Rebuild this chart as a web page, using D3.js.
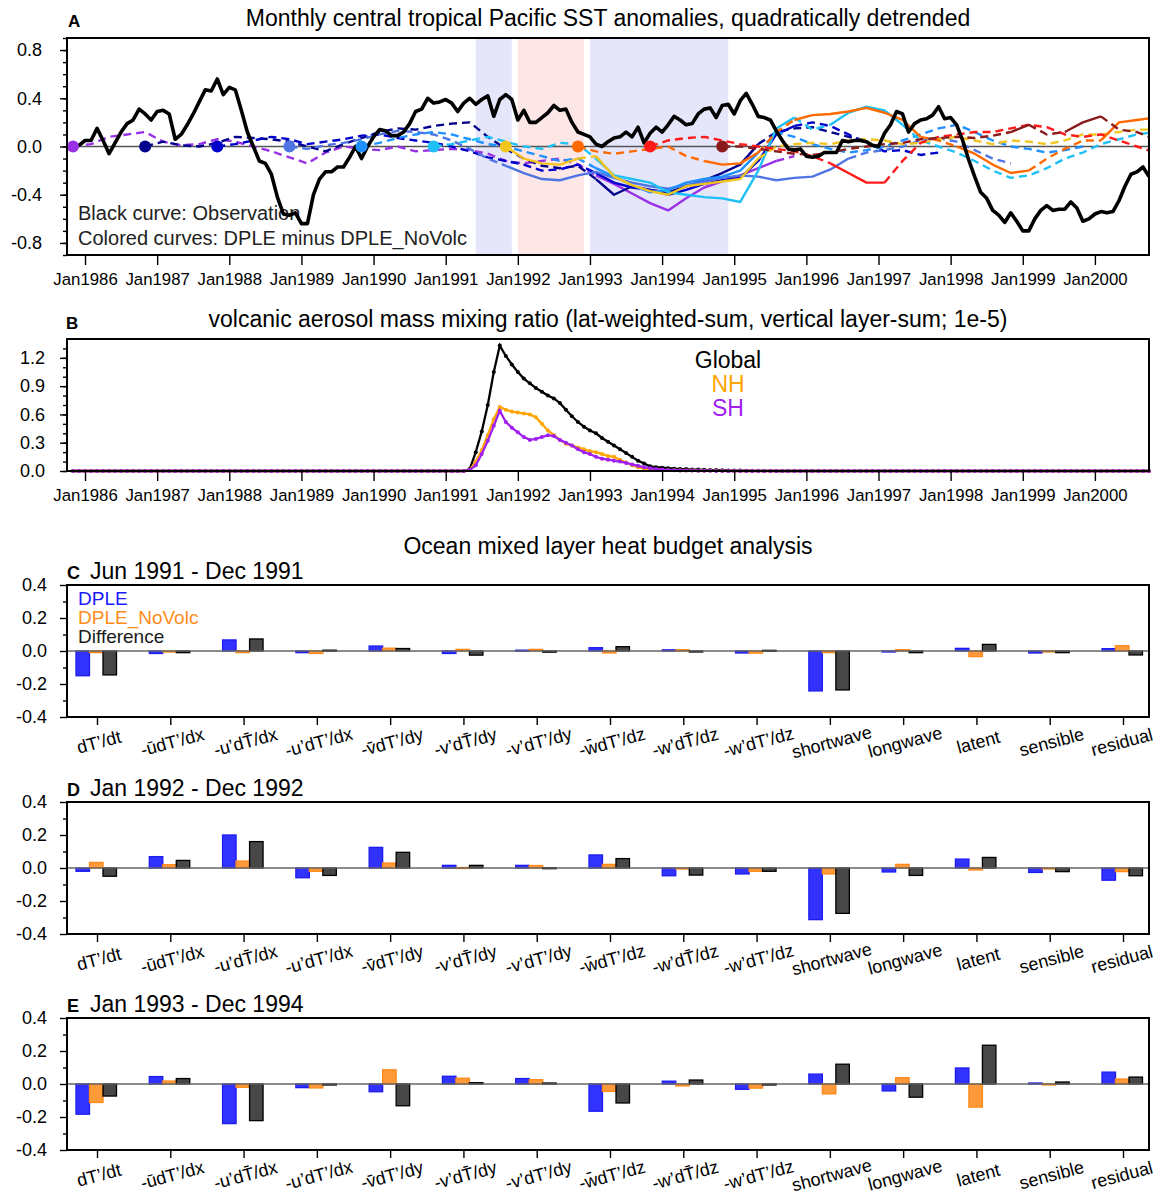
<!DOCTYPE html>
<html>
<head>
<meta charset="utf-8">
<script src="https://cdn.jsdelivr.net/npm/d3@7"></script>
<style>
  body { margin: 0; background: #fff; }
  svg { font-family: "Liberation Sans", Arial, Helvetica, sans-serif; }
</style>
</head>
<body>
<svg id="fig" width="1158" height="1200"></svg>
<script>
// ---------------------------------------------------------------------------
// Data. Months are counted from Jan 1986 (= 0).
// ---------------------------------------------------------------------------
const yearLabels = ["Jan1986","Jan1987","Jan1988","Jan1989","Jan1990","Jan1991","Jan1992",
  "Jan1993","Jan1994","Jan1995","Jan1996","Jan1997","Jan1998","Jan1999","Jan2000"];

// Observed central tropical Pacific SST anomaly (monthly, from Nov 1985)
const obsStart = -2;
const obsSST = [
  0.00, 0.01,
  0.05, 0.05, 0.15, 0.05, -0.06, 0.03, 0.12, 0.19, 0.22, 0.31, 0.27, 0.22,
  0.29, 0.30, 0.27, 0.06, 0.10, 0.18, 0.27, 0.37, 0.47, 0.46, 0.56, 0.43,
  0.49, 0.47, 0.30, 0.12, 0.00, -0.12, -0.14, -0.23, -0.42, -0.56, -0.57, -0.55,
  -0.64, -0.64, -0.40, -0.27, -0.21, -0.21, -0.17, -0.17, -0.09, 0.00, -0.10, 0.00,
  0.08, 0.14, 0.13, 0.09, 0.09, 0.12, 0.19, 0.29, 0.31, 0.40, 0.36, 0.37,
  0.39, 0.36, 0.29, 0.36, 0.40, 0.35, 0.39, 0.42, 0.25, 0.39, 0.43, 0.39,
  0.22, 0.30, 0.20, 0.20, 0.24, 0.28, 0.34, 0.30, 0.31, 0.20, 0.12, 0.10,
  0.08, 0.02, 0.00, 0.04, 0.07, 0.08, 0.12, 0.08, 0.16, 0.03, 0.11, 0.16,
  0.12, 0.18, 0.25, 0.22, 0.18, 0.19, 0.27, 0.31, 0.32, 0.24, 0.34, 0.35,
  0.27, 0.38, 0.44, 0.35, 0.25, 0.24, 0.22, 0.13, 0.05, -0.02, -0.03, -0.02,
  -0.08, -0.09, -0.08, -0.05, -0.05, -0.05, 0.05, 0.04, 0.05, 0.05, 0.04, 0.01,
  0.00, 0.11, 0.18, 0.29, 0.27, 0.12, 0.19, 0.22, 0.23, 0.26, 0.33, 0.23,
  0.24, 0.18, 0.05, -0.11, -0.25, -0.38, -0.43, -0.53, -0.57, -0.63, -0.55, -0.62,
  -0.70, -0.70, -0.60, -0.53, -0.49, -0.53, -0.52, -0.52, -0.46, -0.51, -0.62, -0.60,
  -0.56, -0.54, -0.55, -0.54, -0.45, -0.33, -0.23, -0.21, -0.17, -0.25
];

// DPLE minus DPLE_NoVolc, one hindcast per November start, sampled every 3 months
const hindcastStep = 3;
const startMonths = [-2, 10, 22, 34, 46, 58, 70, 82, 94, 106];
const memberColors = ["#9932e6", "#00008b", "#0000cd", "#4f74e3", "#1e90ff",
                      "#1ec0f5", "#f2c41e", "#ff6a00", "#ff1a1a", "#8b1a1a"];
const diffNov1985 = [0, 0.02, 0.08, 0.10, 0.12, 0.04, 0.01, 0.02, 0.06, 0.04, 0.00, -0.04, -0.09, -0.14,
  -0.05, 0.00, -0.02, -0.03, 0.00, -0.04, -0.03, -0.02, -0.03, -0.06, -0.12, -0.14, -0.12, -0.10,
  -0.15, -0.24, -0.31, -0.39, -0.47, -0.53, -0.43, -0.34, -0.29, -0.24, -0.18, -0.12, -0.08];
const diffNov1986 = [0, 0.04, 0.01, 0.00, 0.03, 0.08, 0.07, 0.06, 0.04, 0.00, -0.04, 0.02, 0.07, 0.12,
  0.15, 0.14, 0.17, 0.19, 0.20, 0.08, -0.02, -0.10, -0.16, -0.18, -0.16, -0.27, -0.40, -0.33,
  -0.36, -0.38, -0.33, -0.28, -0.22, -0.15, 0.02, 0.12, 0.15, 0.16, 0.12, 0.08, 0.05];
const diffNov1987 = [0, 0.02, 0.05, 0.08, 0.06, 0.02, 0.04, 0.06, 0.09, 0.10, 0.07, 0.05, 0.03, 0.00,
  -0.04, -0.09, -0.12, -0.15, -0.20, -0.19, -0.15, -0.22, -0.30, -0.34, -0.36, -0.40, -0.36, -0.31,
  -0.28, -0.26, -0.12, 0.10, 0.17, 0.20, 0.17, 0.10, 0.03, -0.04, -0.03, -0.07, -0.05];
const diffNov1988 = [0, -0.02, 0.01, 0.03, 0.06, 0.10, 0.13, 0.12, 0.10, 0.05, -0.02, -0.10, -0.16, -0.22,
  -0.27, -0.28, -0.24, -0.21, -0.26, -0.30, -0.33, -0.35, -0.32, -0.29, -0.26, -0.24, -0.25, -0.28,
  -0.26, -0.25, -0.19, -0.10, -0.05, -0.03, 0.00, 0.05, 0.07, 0.04, -0.03, -0.10, -0.14];
const diffNov1989 = [0, 0.03, 0.07, 0.10, 0.12, 0.10, 0.06, 0.02, 0.00, -0.04, -0.08, -0.12, -0.10, -0.18,
  -0.25, -0.32, -0.38, -0.36, -0.30, -0.27, -0.25, -0.20, -0.05, 0.12, 0.08, 0.02, -0.02, -0.05,
  -0.03, 0.00, 0.05, 0.10, 0.15, 0.18, 0.12, 0.05, 0.00, -0.02, -0.05, -0.03, 0.00];
const diffNov1990 = [0, 0.02, 0.05, 0.08, 0.04, 0.00, -0.02, 0.03, 0.02, -0.10, -0.24, -0.27, -0.30, -0.38,
  -0.40, -0.42, -0.43, -0.46, -0.20, 0.15, 0.24, 0.14, 0.18, 0.28, 0.33, 0.30, 0.18, 0.05,
  0.00, -0.05, -0.12, -0.20, -0.26, -0.24, -0.18, -0.10, -0.05, 0.02, 0.06, 0.10, 0.12];
const diffNov1991 = [0, -0.10, -0.14, -0.15, -0.10, -0.08, -0.25, -0.32, -0.37, -0.40, -0.33, -0.31, -0.29,
  -0.27, -0.10, 0.00, 0.02, 0.03, 0.02, 0.05, 0.06, 0.05, 0.02, 0.03, 0.06, 0.08, 0.05, 0.02,
  0.05, 0.04, 0.02, 0.05, 0.10, 0.10, 0.12, 0.14, 0.14];
const diffNov1992 = [0, -0.04, -0.06, -0.04, -0.02, 0.00, -0.08, -0.12, -0.15, -0.14, -0.05, 0.12, 0.22,
  0.26, 0.27, 0.29, 0.32, 0.28, 0.22, 0.08, 0.05, 0.00, -0.06, -0.15, -0.22, -0.20, -0.10, -0.02,
  0.05, 0.05, 0.20, 0.22, 0.24];
const diffNov1993 = [0, 0.05, 0.07, 0.08, 0.05, 0.02, 0.00, -0.02, -0.04, -0.08, -0.14, -0.22, -0.30,
  -0.30, -0.12, 0.03, 0.08, 0.10, 0.12, 0.12, 0.15, 0.18, 0.16, 0.10, 0.08, 0.10, 0.05, 0.00, -0.05];
const diffNov1994 = [0, 0.00, -0.02, -0.04, -0.06, -0.07, -0.05, -0.02, 0.00, 0.02, 0.03, 0.06, 0.07,
  0.08, 0.07, 0.09, 0.12, 0.18, 0.10, 0.12, 0.20, 0.25, 0.14, 0.12, 0.06];
// month ranges where each difference curve is drawn solid (elsewhere dashed)
const solidSpans = [
  [[85, 116]], [[84, 112]], [[84, 118]], [[70, 126]], [[84, 112]],
  [[84, 119], [125, 135]], [[70, 82], [86, 112]], [[104, 112], [118, 138], [146, 156], [168, 178]],
  [[124, 133]], [[153, 158], [162, 170]]
];
// shaded analysis periods: Jun-Dec 1991, Jan-Dec 1992, Jan 1993-Dec 1994
const periodSpans = [[65, 71], [72, 83], [84, 107]];
const periodFills = ["#e6e6fb", "#fde6e6", "#e6e6fb"];

// Volcanic aerosol mass mixing ratio (1e-5), monthly from Apr 1991; zero outside
const aerosolStart = 63;
const aerosolGlobal = [0, 0.02, 0.20, 0.42, 0.70, 1.05, 1.33, 1.22, 1.13, 1.05, 0.98, 0.93, 0.88, 0.84,
  0.80, 0.77, 0.72, 0.65, 0.58, 0.52, 0.47, 0.43, 0.40, 0.35, 0.31, 0.27, 0.23, 0.19, 0.15, 0.11,
  0.08, 0.05, 0.04, 0.035, 0.03, 0.025, 0.02, 0.02, 0.015, 0.015, 0.012, 0.01, 0.01, 0.008, 0.006,
  0.005, 0.004, 0.003, 0.002, 0.002, 0.001, 0.001, 0, 0];
const aerosolNH = [0, 0.01, 0.10, 0.22, 0.38, 0.55, 0.68, 0.65, 0.63, 0.62, 0.61, 0.60, 0.57, 0.50,
  0.43, 0.38, 0.33, 0.29, 0.27, 0.25, 0.23, 0.21, 0.20, 0.18, 0.16, 0.15, 0.12, 0.09, 0.06, 0.04,
  0.025, 0.018, 0.014, 0.011, 0.009, 0.007, 0.006, 0.005, 0.004, 0.003, 0.003, 0.002, 0.002, 0.001,
  0.001, 0, 0, 0, 0, 0, 0, 0, 0, 0];
const aerosolSH = [0, 0.01, 0.06, 0.18, 0.32, 0.48, 0.64, 0.52, 0.46, 0.41, 0.36, 0.33, 0.34, 0.36,
  0.38, 0.37, 0.33, 0.30, 0.27, 0.23, 0.20, 0.18, 0.15, 0.13, 0.12, 0.11, 0.10, 0.085, 0.07, 0.055,
  0.04, 0.03, 0.02, 0.015, 0.01, 0.008, 0.006, 0.005, 0.004, 0.003, 0.002, 0.002, 0.001, 0.001,
  0, 0, 0, 0, 0, 0, 0, 0, 0, 0];

// Mixed layer heat budget terms
const budgetTerms = ["dT\u2019/dt", "-\u016BdT\u2019/dx", "-u\u2019dT\u0304/dx", "-u\u2019dT\u2019/dx",
  "-v\u0304dT\u2019/dy", "-v\u2019dT\u0304/dy", "-v\u2019dT\u2019/dy", "-w\u0304dT\u2019/dz",
  "-w\u2019dT\u0304/dz", "-w\u2019dT\u2019/dz", "shortwave", "longwave", "latent", "sensible", "residual"];
const dple1991   = [-0.150, -0.015, 0.067, -0.010, 0.030, -0.015, 0.005, 0.020, 0.007, -0.012, -0.242, -0.003, 0.016, -0.012, 0.014];
const noVolc1991 = [-0.010, -0.005, -0.010, -0.015, 0.017, 0.010, 0.010, -0.012, 0.008, -0.013, -0.010, 0.008, -0.034, -0.005, 0.032];
const diff1991   = [-0.145, -0.010, 0.073, 0.005, 0.015, -0.025, -0.007, 0.026, -0.003, 0.004, -0.236, -0.010, 0.040, -0.010, -0.024];
const dple1992   = [-0.020, 0.069, 0.200, -0.059, 0.125, 0.016, 0.016, 0.079, -0.047, -0.036, -0.313, -0.024, 0.054, -0.027, -0.074];
const noVolc1992 = [0.034, 0.020, 0.042, -0.020, 0.030, 0.003, 0.015, 0.022, -0.005, -0.020, -0.036, 0.022, -0.012, -0.004, -0.022];
const diff1992   = [-0.050, 0.046, 0.160, -0.045, 0.095, 0.016, 0.002, 0.057, -0.043, -0.020, -0.275, -0.045, 0.064, -0.022, -0.047];
const dple9394   = [-0.183, 0.045, -0.240, -0.022, -0.047, 0.047, 0.033, -0.165, 0.017, -0.032, 0.060, -0.042, 0.097, 0.006, 0.072];
const noVolc9394 = [-0.112, 0.018, -0.020, -0.024, 0.086, 0.035, 0.026, -0.045, -0.012, -0.025, -0.060, 0.038, -0.140, -0.006, 0.030];
const diff9394   = [-0.073, 0.033, -0.222, -0.006, -0.132, 0.008, 0.006, -0.115, 0.024, -0.005, 0.120, -0.080, 0.235, 0.012, 0.042];

// ---------------------------------------------------------------------------
// Drawing
// ---------------------------------------------------------------------------
const svg = d3.select("#fig");
const L = 67, R = 1149;
const fmt1 = v => v.toFixed(1);

function frame(y0, y1) {
  svg.append("rect").attr("x", L).attr("y", y0).attr("width", R - L).attr("height", y1 - y0)
    .attr("fill", "none").attr("stroke", "#000").attr("stroke-width", 2);
}
function styleAxis(g, size) {
  g.select(".domain").remove();
  g.selectAll("line").attr("stroke", "#000").attr("stroke-width", 1.4);
  g.selectAll("text").attr("font-family", "Liberation Sans, Arial, sans-serif")
    .attr("font-size", size).attr("fill", "#000");
}
function leftAxis(y, majors, minors, pad) {
  const gMin = svg.append("g").attr("transform", `translate(${L},0)`)
    .call(d3.axisLeft(y).tickValues(minors).tickSize(4).tickFormat(""));
  styleAxis(gMin, 18);
  const gMaj = svg.append("g").attr("transform", `translate(${L},0)`)
    .call(d3.axisLeft(y).tickValues(majors).tickSize(7).tickPadding(pad).tickFormat(fmt1));
  styleAxis(gMaj, 18);
}
function monthAxis(x, yPos) {
  const g = svg.append("g").attr("transform", `translate(0,${yPos})`)
    .call(d3.axisBottom(x).tickValues(yearLabels.map((_, i) => i * 12)).tickSize(10)
      .tickPadding(8).tickFormat((d, i) => yearLabels[i]));
  styleAxis(g, 16.8);
}
function panelTag(x, y, t, size) {
  svg.append("text").attr("x", x).attr("y", y).attr("font-weight", "bold")
    .attr("font-size", size).text(t);
}

// ---------------- Panel A ----------------
const aTop = 38, aBot = 255;
const xA = d3.scaleLinear().domain([-3, 177]).range([L, R]);
const yA = d3.scaleLinear().domain([-0.9, 0.9]).range([aBot, aTop]);

svg.append("defs").append("clipPath").attr("id", "clipA").append("rect")
  .attr("x", L).attr("y", aTop).attr("width", R - L).attr("height", aBot - aTop);

periodSpans.forEach(([a, b], i) => {
  svg.append("rect").attr("x", xA(a)).attr("y", aTop).attr("width", xA(b) - xA(a))
    .attr("height", aBot - aTop).attr("fill", periodFills[i]);
});

svg.append("line").attr("x1", L).attr("x2", R).attr("y1", yA(0)).attr("y2", yA(0))
  .attr("stroke", "#555").attr("stroke-width", 1.3);

svg.append("text").attr("x", 78).attr("y", 220).attr("font-size", 20).attr("fill", "#222")
  .text("Black curve: Observation");
svg.append("text").attr("x", 78).attr("y", 245).attr("font-size", 20).attr("fill", "#222")
  .text("Colored curves: DPLE minus DPLE_NoVolc");

const hindcasts = [diffNov1985, diffNov1986, diffNov1987, diffNov1988, diffNov1989,
                   diffNov1990, diffNov1991, diffNov1992, diffNov1993, diffNov1994];
const lineA = d3.line().x(d => xA(d[0])).y(d => yA(d[1]));
const gCurves = svg.append("g").attr("clip-path", "url(#clipA)");

hindcasts.forEach((vals, k) => {
  const pts = vals.map((v, i) => [startMonths[k] + hindcastStep * i, v]);
  const solid = m => solidSpans[k].some(([a, b]) => m >= a && m <= b);
  const runs = [];
  let cur = [pts[0]], curSolid = solid((pts[0][0] + pts[1][0]) / 2);
  for (let i = 1; i < pts.length; i++) {
    const s = solid((pts[i - 1][0] + pts[i][0]) / 2);
    if (s !== curSolid) { runs.push({ solid: curSolid, pts: cur }); cur = [pts[i - 1]]; curSolid = s; }
    cur.push(pts[i]);
  }
  runs.push({ solid: curSolid, pts: cur });
  runs.forEach(r => {
    gCurves.append("path").attr("d", lineA(r.pts)).attr("fill", "none")
      .attr("stroke", memberColors[k]).attr("stroke-width", 2.4)
      .attr("stroke-linejoin", "round")
      .attr("stroke-dasharray", r.solid ? null : "8,5");
  });
});

startMonths.forEach((m, k) => {
  svg.append("circle").attr("cx", xA(m)).attr("cy", yA(0)).attr("r", 6).attr("fill", memberColors[k]);
});

gCurves.append("path")
  .attr("d", lineA(obsSST.map((v, i) => [obsStart + i, v])))
  .attr("fill", "none").attr("stroke", "#000").attr("stroke-width", 3.6)
  .attr("stroke-linejoin", "round");

frame(aTop, aBot);
leftAxis(yA, [-0.8, -0.4, 0, 0.4, 0.8], d3.range(-9, 10).map(i => i / 10), 18);
monthAxis(xA, aBot);
panelTag(68, 27, "A", 17);
svg.append("text").attr("x", 608).attr("y", 26).attr("text-anchor", "middle").attr("font-size", 23)
  .text("Monthly central tropical Pacific SST anomalies, quadratically detrended");

// ---------------- Panel B ----------------
const bTop = 339, bBot = 471;
const yB = d3.scaleLinear().domain([0, 1.4]).range([bBot, bTop]);
const months = d3.range(-2, 178);
const fullSeries = arr => months.map(m => {
  const i = m - aerosolStart;
  return [m, (i >= 0 && i < arr.length) ? arr[i] : 0];
});
const lineB = d3.line().x(d => xA(d[0])).y(d => yB(d[1]));
[[aerosolGlobal, "#000"], [aerosolNH, "#ffa500"], [aerosolSH, "#a020f0"]].forEach(([arr, c]) => {
  const s = fullSeries(arr);
  svg.append("path").attr("d", lineB(s)).attr("fill", "none").attr("stroke", c).attr("stroke-width", 2.3);
  svg.append("g").selectAll("circle").data(s).join("circle")
    .attr("cx", d => xA(d[0])).attr("cy", d => yB(d[1])).attr("r", 2).attr("fill", c);
});
frame(bTop, bBot);
leftAxis(yB, [0, 0.3, 0.6, 0.9, 1.2], d3.range(0, 14).map(i => i / 10), 15);
monthAxis(xA, bBot);
panelTag(66, 329, "B", 17);
svg.append("text").attr("x", 608).attr("y", 327).attr("text-anchor", "middle").attr("font-size", 23)
  .text("volcanic aerosol mass mixing ratio (lat-weighted-sum, vertical layer-sum; 1e-5)");
[["Global", "#000", 368], ["NH", "#ffa500", 392], ["SH", "#a020f0", 416]].forEach(([t, c, y]) => {
  svg.append("text").attr("x", 728).attr("y", y).attr("text-anchor", "middle")
    .attr("font-size", 23).attr("fill", c).text(t);
});

// ---------------- Heat budget panels ----------------
svg.append("text").attr("x", 608).attr("y", 554).attr("text-anchor", "middle").attr("font-size", 23)
  .text("Ocean mixed layer heat budget analysis");

const xCat = d3.scalePoint().domain(d3.range(budgetTerms.length)).range([97, 1123]);
const seriesKeys = ["dple", "noVolc", "diff"];
const xSub = d3.scaleBand().domain(seriesKeys).range([-21, 19.5]);
const barFill = { dple: "#3232ff", noVolc: "#ff9a3a", diff: "#474747" };
const barStroke = { dple: "#1c1cf0", noVolc: "#ff8a1a", diff: "#000" };

function budgetPanel(top, tag, title, dple, noVolc, diff, legend) {
  const bot = top + 132;
  const y = d3.scaleLinear().domain([-0.4, 0.4]).range([bot, top]);
  const g = svg.append("g");
  [["dple", dple], ["noVolc", noVolc], ["diff", diff]].forEach(([k, vals]) => {
    g.selectAll(null).data(vals).join("rect")
      .attr("x", (d, i) => xCat(i) + xSub(k)).attr("width", xSub.bandwidth())
      .attr("y", d => y(Math.max(d, 0))).attr("height", d => Math.max(Math.abs(y(d) - y(0)), 1))
      .attr("fill", barFill[k]).attr("stroke", barStroke[k]).attr("stroke-width", 1.3);
  });
  svg.append("line").attr("x1", L).attr("x2", R).attr("y1", y(0)).attr("y2", y(0))
    .attr("stroke", "#666").attr("stroke-width", 1.5);
  frame(top, bot);
  leftAxis(y, [-0.4, -0.2, 0, 0.2, 0.4], [-0.3, -0.1, 0.1, 0.3], 13);
  const gx = svg.append("g").attr("transform", `translate(0,${bot})`)
    .call(d3.axisBottom(xCat).tickSize(8).tickFormat(i => budgetTerms[i]));
  styleAxis(gx, 18);
  gx.selectAll(".tick text").attr("y", 0).attr("dy", 0).attr("text-anchor", "middle")
    .attr("transform", (i) => `translate(${i === budgetTerms.length - 1 ? 0 : 3},31) rotate(-15)`);
  panelTag(67, top - 6, tag, 18);
  svg.append("text").attr("x", 90).attr("y", top - 6).attr("font-size", 23).text(title);
  if (legend) {
    [["DPLE", "#1a1aff", 605], ["DPLE_NoVolc", "#ff8c1a", 624], ["Difference", "#1a1a1a", 643]]
      .forEach(([t, c, yy]) => svg.append("text").attr("x", 78).attr("y", yy)
        .attr("font-size", 19).attr("fill", c).text(t));
  }
}
budgetPanel(585, "C", "Jun 1991 - Dec 1991", dple1991, noVolc1991, diff1991, true);
budgetPanel(802, "D", "Jan 1992 - Dec 1992", dple1992, noVolc1992, diff1992, false);
budgetPanel(1018, "E", "Jan 1993 - Dec 1994", dple9394, noVolc9394, diff9394, false);
</script>
</body>
</html>
